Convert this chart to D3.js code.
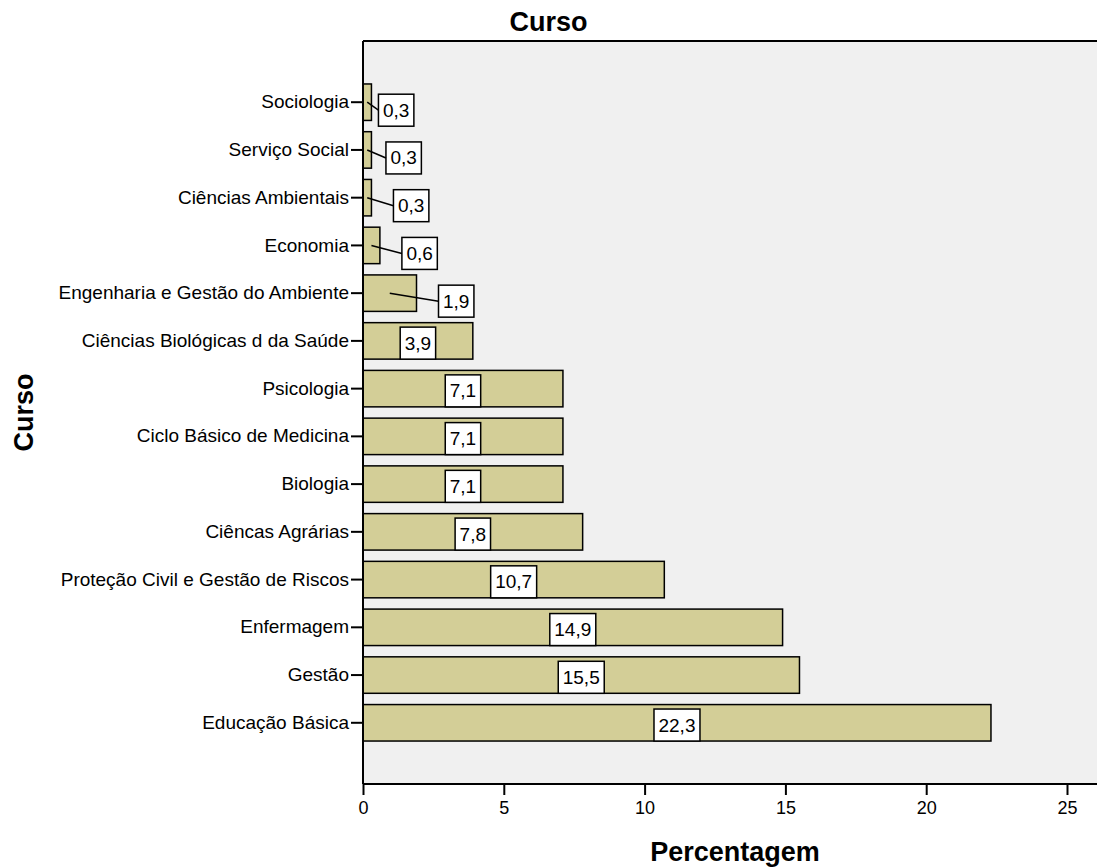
<!DOCTYPE html>
<html>
<head>
<meta charset="utf-8">
<script src="https://cdn.jsdelivr.net/npm/d3@7"></script>
<style>
  html, body { margin: 0; padding: 0; background: #ffffff; }
  svg { display: block; font-family: Arial, "Liberation Sans", sans-serif; }
</style>
</head>
<body>
<svg id="chart" width="1097" height="867"></svg>
<script>
// ---- data ----
const categories = [
  "Sociologia",
  "Serviço Social",
  "Ciências Ambientais",
  "Economia",
  "Engenharia e Gestão do Ambiente",
  "Ciências Biológicas d da Saúde",
  "Psicologia",
  "Ciclo Básico de Medicina",
  "Biologia",
  "Ciêncas Agrárias",
  "Proteção Civil e Gestão de Riscos",
  "Enfermagem",
  "Gestão",
  "Educação Básica"
];
const percentages = [0.3, 0.3, 0.3, 0.6, 1.9, 3.9, 7.1, 7.1, 7.1, 7.8, 10.7, 14.9, 15.5, 22.3];
const valueLabels = ["0,3", "0,3", "0,3", "0,6", "1,9", "3,9", "7,1", "7,1", "7,1", "7,8", "10,7", "14,9", "15,5", "22,3"];
const xTicks = [0, 5, 10, 15, 20, 25];
const chartTitle = "Curso";
const xTitle = "Percentagem";
const yTitle = "Curso";

// ---- layout ----
const W = 1097, H = 867;
const plot = { left: 363, top: 41, bottom: 784, right: 1097 };
const svg = d3.select("#chart");

const x = d3.scaleLinear().domain([0, 25]).range([plot.left, 1067]);
const y = d3.scaleBand().domain(categories).range([plot.top, plot.bottom])
  .paddingInner(0.236).paddingOuter(0.9);

// background
svg.append("rect").attr("x", plot.left).attr("y", plot.top)
  .attr("width", plot.right - plot.left + 5).attr("height", plot.bottom - plot.top)
  .attr("fill", "#f0f0f0");

// top border
svg.append("line").attr("x1", plot.left).attr("x2", plot.right + 5)
  .attr("y1", plot.top).attr("y2", plot.top)
  .attr("stroke", "#000").attr("stroke-width", 2);

const data = categories.map((c, i) => ({ cat: c, v: percentages[i], label: valueLabels[i] }));

// bars
svg.append("g").selectAll("rect").data(data).join("rect")
  .attr("x", x(0))
  .attr("y", d => y(d.cat))
  .attr("width", d => x(d.v) - x(0))
  .attr("height", y.bandwidth())
  .attr("fill", "#d3ce97")
  .attr("stroke", "#000")
  .attr("stroke-width", 1.5);

// axes
const xAxis = svg.append("g").attr("transform", `translate(0,${plot.bottom})`)
  .call(d3.axisBottom(x).tickValues(xTicks).tickSize(11).tickPadding(6).tickFormat(d3.format("d")));
xAxis.select(".domain").attr("d", `M${plot.left},0H${plot.right + 5}`).attr("stroke-width", 2);
xAxis.selectAll(".tick line").attr("stroke-width", 2);
xAxis.selectAll("text").attr("font-size", 18).attr("fill", "#000")
  .attr("font-family", "Arial, 'Liberation Sans', sans-serif");

const yAxis = svg.append("g").attr("transform", `translate(${plot.left},0)`)
  .call(d3.axisLeft(y).tickSize(12).tickPadding(2));
yAxis.select(".domain").attr("d", `M0,${plot.top}V${plot.bottom}`).attr("stroke-width", 2);
yAxis.selectAll(".tick line").attr("stroke-width", 2);
yAxis.selectAll("text").attr("font-size", 19).attr("fill", "#000")
  .attr("font-family", "Arial, 'Liberation Sans', sans-serif");

// value labels
const lblG = svg.append("g");
let outsideCount = 0;
data.forEach(d => {
  const g = lblG.append("g");
  const t = g.append("text").text(d.label)
    .attr("font-size", 19).attr("fill", "#000");
  const bb = t.node().getBBox();
  const bw = bb.width + 9, bh = 32;
  const barW = x(d.v) - x(0);
  const barTop = y(d.cat), barH = y.bandwidth();
  const barCy = barTop + barH / 2;
  let bx, by, outside = false;
  if (bw * 2 < barW) {
    bx = x(0) + barW / 2 - bw / 2;
    by = barTop + barH - bh;
  } else {
    outside = true;
    // staggered placement to the right of short bars
    const k = Math.min(outsideCount, 2);
    bx = x(d.v) + 7 + 7.5 * k;
    by = barCy + 8 - bh / 2;
    outsideCount++;
  }
  if (outside) {
    g.append("line")
      .attr("x1", x(0) + barW / 2).attr("y1", barCy)
      .attr("x2", bx).attr("y2", by + bh / 2)
      .attr("stroke", "#000").attr("stroke-width", 1.5);
  }
  g.insert("rect", "text")
    .attr("x", bx).attr("y", by).attr("width", bw).attr("height", bh)
    .attr("fill", "#fff").attr("stroke", "#000").attr("stroke-width", 1.5);
  t.attr("x", bx + bw / 2).attr("y", by + bh / 2).attr("text-anchor", "middle")
    .attr("dominant-baseline", "central");
});

// titles
svg.append("text").attr("x", W / 2).attr("y", 31).attr("text-anchor", "middle")
  .attr("font-size", 27).attr("font-weight", "bold").text(chartTitle);
svg.append("text").attr("x", 735).attr("y", 861).attr("text-anchor", "middle")
  .attr("font-size", 27).attr("font-weight", "bold").text(xTitle);
svg.append("text").attr("transform", `translate(33,${(plot.top + plot.bottom) / 2}) rotate(-90)`)
  .attr("text-anchor", "middle").attr("font-size", 27).attr("font-weight", "bold").text(yTitle);
</script>
</body>
</html>
